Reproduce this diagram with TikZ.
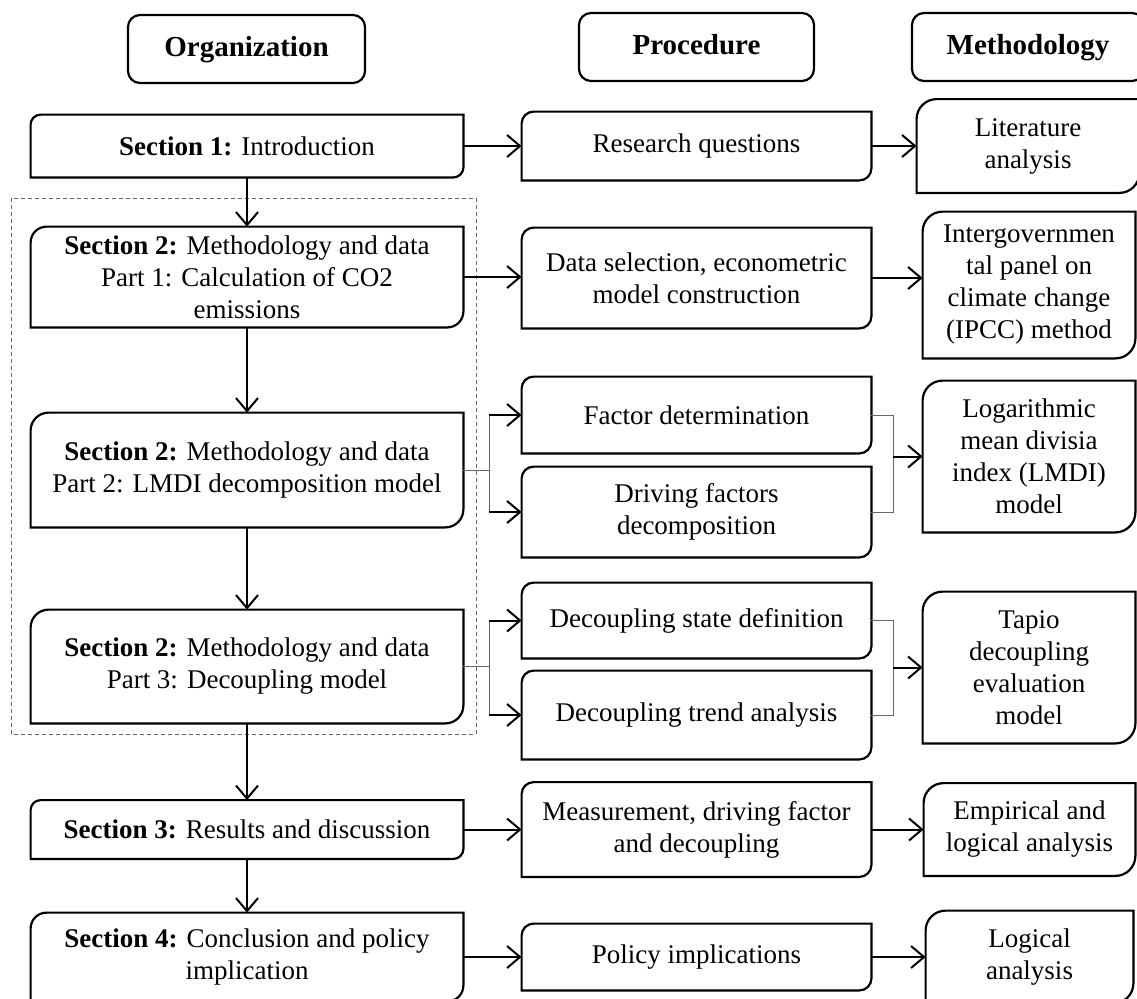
\documentclass[tikz,border=0pt]{standalone}
\usepackage{fontspec}
\setmainfont{Liberation Serif}
\usetikzlibrary{arrows.meta}

\tikzset{
  txt/.style={inner sep=0pt, align=center, font=\fontsize{13.5}{16}\selectfont},
  headbox/.style={draw, line width=1.1pt, rounded corners=6pt, inner sep=0pt,
    minimum height=34pt, text height=10pt, text depth=3pt,
    font=\fontsize{14.5}{18}\selectfont\bfseries},
  edgeline/.style={line width=1.1pt},
  arr/.style={line width=1pt, -{Straight Barb[length=6.5pt,width=11pt]}},
  link/.style={line width=0.5pt, black!60},
}
% box with rounded top-left and bottom-right corners
\newcommand\tabframe[2]{%
  \draw[edgeline] (#1.south west) -- ([yshift=-#2]#1.north west)
    arc[start angle=180, end angle=90, radius=#2] -- (#1.north east)
    -- ([yshift=#2]#1.south east) arc[start angle=0, end angle=-90, radius=#2] -- cycle;}

\begin{document}
\begin{tikzpicture}[x=0.5pt, y=-0.5pt]
\useasboundingbox (0,0) rectangle (1137,998);
\clip (0,0) rectangle (1137,998);

% Headers
\node[headbox, minimum width=118.5pt] (horg) at (246.5,49) {Organization};
\node[headbox, minimum width=117.5pt] (hproc) at (696.5,47) {Procedure};
\node[headbox, minimum width=116pt] (hmeth) at (1028,47) {Methodology};

% Organization column
\node[txt, minimum width=216pt, minimum height=31pt] (intro) at (247,146) {\textbf{Section 1:} Introduction};
\node[txt, minimum width=216pt, minimum height=50pt] (sec2a) at (247,277) {\textbf{Section 2:} Methodology and data\\Part 1: Calculation of CO2\\emissions};
\node[txt, minimum width=216pt, minimum height=57pt] (sec2b) at (247,470) {\textbf{Section 2:} Methodology and data\\Part 2: LMDI decomposition model};
\node[txt, minimum width=216pt, minimum height=56.5pt] (sec2c) at (247,666.5) {\textbf{Section 2:} Methodology and data\\Part 3: Decoupling model};
\node[txt, minimum width=216pt, minimum height=29pt] (sec3) at (247,829.5) {\textbf{Section 3:} Results and discussion};
\node[txt, minimum width=216pt, minimum height=44pt] (sec4) at (247,957) {\textbf{Section 4:} Conclusion and policy\\implication};

% Procedure column
\node[txt, minimum width=174.5pt, minimum height=34pt] (rq) at (696.5,146) {Research questions};
\node[txt, minimum width=174.5pt, minimum height=50pt] (dsel) at (696.5,278) {Data selection, econometric\\model construction};
\node[txt, minimum width=174.5pt, minimum height=38pt] (fdet) at (696.5,415) {Factor determination};
\node[txt, minimum width=174.5pt, minimum height=45pt] (dfd) at (696.5,512) {Driving factors\\decomposition};
\node[txt, minimum width=174.5pt, minimum height=37.5pt] (dsd) at (696.5,620.5) {Decoupling state definition};
\node[txt, minimum width=174.5pt, minimum height=44pt] (dta) at (696.5,715) {Decoupling trend analysis};
\node[txt, minimum width=174.5pt, minimum height=47pt] (meas) at (696.5,829.5) {Measurement, driving factor\\and decoupling};
\node[txt, minimum width=174.5pt, minimum height=33pt] (pol) at (696.5,957) {Policy implications};

% Methodology column
\node[txt, minimum width=111pt, minimum height=46.5pt] (lit) at (1028,146) {Literature\\analysis};
\node[txt, minimum width=106pt, minimum height=73pt] (ipcc) at (1029,285) {Intergovernmen\\tal panel on\\climate change\\(IPCC) method};
\node[txt, minimum width=106pt, minimum height=75.5pt] (lmdi) at (1029,456.5) {Logarithmic\\mean divisia\\index (LMDI)\\model};
\node[txt, minimum width=106pt, minimum height=75.5pt] (tapio) at (1029,667.5) {Tapio\\decoupling\\evaluation\\model};
\node[txt, minimum width=105.5pt, minimum height=46pt] (emp) at (1029.5,829.5) {Empirical and\\logical analysis};
\node[txt, minimum width=103.5pt, minimum height=46pt] (logic) at (1029.5,957) {Logical\\analysis};

% Outlines
\tabframe{intro}{5pt}
\tabframe{sec2a}{8pt}
\tabframe{sec2b}{9pt}
\tabframe{sec2c}{9pt}
\tabframe{sec3}{5pt}
\tabframe{sec4}{8pt}
\foreach \n in {rq,dsel,fdet,dfd,dsd,dta,meas,pol} {\tabframe{\n}{6pt}}
\foreach \n in {lit,ipcc,lmdi,tapio,emp,logic} {\tabframe{\n}{10pt}}

% Section 2 group
\draw[black!60, line width=0.5pt, dash pattern=on 2pt off 1.5pt] (11,198) rectangle (476,734);

% Arrows down the organization column
\draw[arr] (intro) -- (sec2a);
\draw[arr] (sec2a) -- (sec2b);
\draw[arr] (sec2b) -- (sec2c);
\draw[arr] (sec2c) -- (sec3);
\draw[arr] (sec3) -- (sec4);

% Arrows across
\draw[arr] (intro.east) -- (intro.east -| rq.west);
\draw[arr] (rq.east) -- (rq.east -| lit.west);
\draw[arr] (sec2a.east) -- (sec2a.east -| dsel.west);
\draw[arr] (dsel.east) -- (dsel.east -| ipcc.west);
\draw[arr] (sec3.east) -- (sec3.east -| meas.west);
\draw[arr] (meas.east) -- (meas.east -| emp.west);
\draw[arr] (sec4.east) -- (sec4.east -| pol.west);
\draw[arr] (pol.east) -- (pol.east -| logic.west);

% Branches for parts 2 and 3
\coordinate (jb) at ([xshift=13pt]sec2b.east);
\coordinate (jc) at ([xshift=13pt]sec2c.east);
\draw[link] (sec2b.east) -- (jb) (jb |- fdet.west) -- (jb |- dfd.west);
\draw[link] (sec2c.east) -- (jc) (jc |- dsd.west) -- (jc |- dta.west);
\draw[arr] (jb |- fdet.west) -- (fdet.west);
\draw[arr] (jb |- dfd.west) -- (dfd.west);
\draw[arr] (jc |- dsd.west) -- (dsd.west);
\draw[arr] (jc |- dta.west) -- (dta.west);

% Brackets into the methodology column
\coordinate (kb) at ([xshift=11pt]fdet.east);
\coordinate (kc) at ([xshift=11pt]dsd.east);
\draw[link] (fdet.east) -- (kb) |- (dfd.east);
\draw[link] (dsd.east) -- (kc) |- (dta.east);
\draw[arr] (kb |- lmdi.west) -- (lmdi.west);
\draw[arr] (kc |- tapio.west) -- (tapio.west);
\end{tikzpicture}
\end{document}
